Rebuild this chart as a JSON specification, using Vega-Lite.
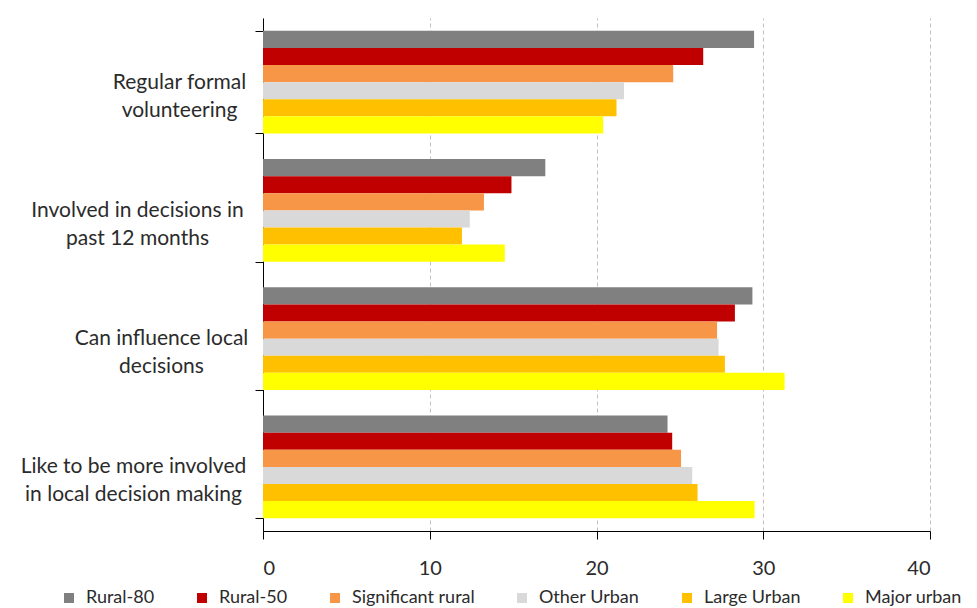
{
  "$schema": "https://vega.github.io/schema/vega-lite/v6.json",
  "width": 667,
  "height": 513,
  "autosize": {"type": "none"},
  "padding": {"left": 263, "top": 18, "right": 47, "bottom": 77},
  "background": "white",
  "config": {"view": {"stroke": null}, "font": "Lato"},
  "data": {
    "values": [
      {"measure": "Regular formal volunteering", "area": "Rural-80", "pct": 29.45},
      {"measure": "Regular formal volunteering", "area": "Rural-50", "pct": 26.4},
      {"measure": "Regular formal volunteering", "area": "Significant rural", "pct": 24.6},
      {"measure": "Regular formal volunteering", "area": "Other Urban", "pct": 21.65},
      {"measure": "Regular formal volunteering", "area": "Large Urban", "pct": 21.2},
      {"measure": "Regular formal volunteering", "area": "Major urban", "pct": 20.4},
      {"measure": "Involved in decisions in past 12 months", "area": "Rural-80", "pct": 16.93},
      {"measure": "Involved in decisions in past 12 months", "area": "Rural-50", "pct": 14.9},
      {"measure": "Involved in decisions in past 12 months", "area": "Significant rural", "pct": 13.25},
      {"measure": "Involved in decisions in past 12 months", "area": "Other Urban", "pct": 12.4},
      {"measure": "Involved in decisions in past 12 months", "area": "Large Urban", "pct": 11.93},
      {"measure": "Involved in decisions in past 12 months", "area": "Major urban", "pct": 14.5},
      {"measure": "Can influence local decisions", "area": "Rural-80", "pct": 29.35},
      {"measure": "Can influence local decisions", "area": "Rural-50", "pct": 28.3},
      {"measure": "Can influence local decisions", "area": "Significant rural", "pct": 27.23},
      {"measure": "Can influence local decisions", "area": "Other Urban", "pct": 27.32},
      {"measure": "Can influence local decisions", "area": "Large Urban", "pct": 27.7},
      {"measure": "Can influence local decisions", "area": "Major urban", "pct": 31.28},
      {"measure": "Like to be more involved in local decision making", "area": "Rural-80", "pct": 24.26},
      {"measure": "Like to be more involved in local decision making", "area": "Rural-50", "pct": 24.54},
      {"measure": "Like to be more involved in local decision making", "area": "Significant rural", "pct": 25.07},
      {"measure": "Like to be more involved in local decision making", "area": "Other Urban", "pct": 25.74},
      {"measure": "Like to be more involved in local decision making", "area": "Large Urban", "pct": 26.06},
      {"measure": "Like to be more involved in local decision making", "area": "Major urban", "pct": 29.48}
    ]
  },
  "mark": {"type": "bar"},
  "encoding": {
    "y": {
      "field": "measure",
      "type": "nominal",
      "sort": ["Regular formal volunteering", "Involved in decisions in past 12 months", "Can influence local decisions", "Like to be more involved in local decision making"],
      "title": null,
      "scale": {"paddingInner": 0.2, "paddingOuter": 0.1},
      "axis": {
        "domainColor": "black",
        "tickColor": "black",
        "tickSize": 8,
        "tickBand": "extent",
        "labelFontSize": 21,
        "labelColor": "#2b2b2b",
        "labelAlign": "center",
        "labelBaseline": "middle",
        "labelLineHeight": 28,
        "labelLimit": 300,
        "labelPadding": {
          "condition": [
            {"test": "datum.value == 'Regular formal volunteering'", "value": 76},
            {"test": "datum.value == 'Involved in decisions in past 12 months'", "value": 118},
            {"test": "datum.value == 'Can influence local decisions'", "value": 94}
          ],
          "value": 122
        },
        "labelExpr": "datum.value == 'Regular formal volunteering' ? ['Regular formal', 'volunteering'] : datum.value == 'Involved in decisions in past 12 months' ? ['Involved in decisions in', 'past 12 months'] : datum.value == 'Can influence local decisions' ? ['Can influence local', 'decisions'] : datum.value == 'Like to be more involved in local decision making' ? ['Like to be more involved', 'in local decision making'] : ''",
        "grid": false
      }
    },
    "yOffset": {
      "field": "area",
      "type": "nominal",
      "sort": ["Rural-80", "Rural-50", "Significant rural", "Other Urban", "Large Urban", "Major urban"],
      "scale": {"paddingInner": 0, "paddingOuter": 0}
    },
    "x": {
      "field": "pct",
      "type": "quantitative",
      "scale": {"domain": [0, 40], "nice": false},
      "axis": {
        "values": [0, 10, 20, 30, 40],
        "title": null,
        "grid": true,
        "gridDash": [4, 3],
        "gridColor": "#c0c0c0",
        "domainColor": "black",
        "tickColor": "black",
        "tickSize": 8,
        "labelFontSize": 20,
        "labelColor": "#2b2b2b",
        "labelPadding": 19
      }
    },
    "color": {
      "field": "area",
      "type": "nominal",
      "scale": {
        "domain": ["Rural-80", "Rural-50", "Significant rural", "Other Urban", "Large Urban", "Major urban"],
        "range": ["#808080", "#C00000", "#F79646", "#D9D9D9", "#FFC000", "#FFFF00"]
      },
      "legend": {
        "orient": "none",
        "legendX": -203,
        "legendY": 571,
        "direction": "horizontal",
        "columns": 6,
        "title": null,
        "symbolType": "square",
        "symbolSize": 100,
        "symbolStrokeWidth": 0,
        "labelFontSize": 18,
        "labelOffset": 8,
        "labelColor": "#2b2b2b",
        "columnPadding": 38
      }
    }
  }
}
